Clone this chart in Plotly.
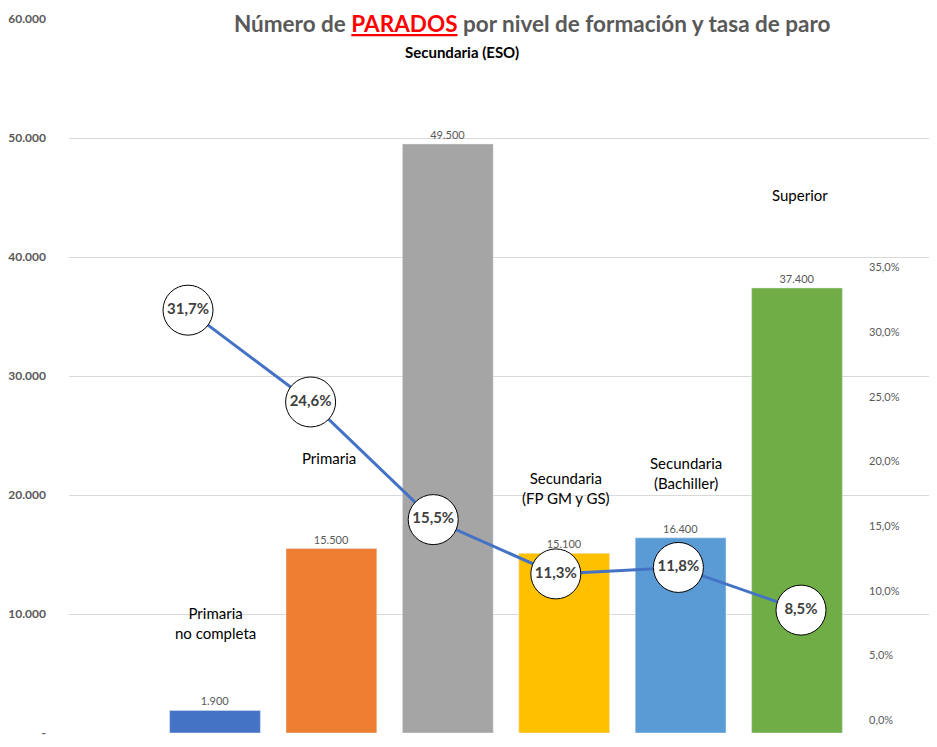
import plotly.graph_objects as go

categories = ["Primaria no completa", "Primaria", "Secundaria (ESO)",
              "Secundaria (FP GM y GS)", "Secundaria (Bachiller)", "Superior"]
category_labels = ["Primaria<br>no completa", "Primaria", "<b>Secundaria (ESO)</b>",
                   "Secundaria<br>(FP GM y GS)", "Secundaria<br>(Bachiller)", "Superior"]
parados = [1900, 15500, 49500, 15100, 16400, 37400]
tasa_paro = [0.317, 0.246, 0.155, 0.113, 0.118, 0.085]
bar_colors = ["#4472C4", "#ED7D31", "#A5A5A5", "#FFC000", "#5B9BD5", "#70AD47"]
left_tickvals = [0, 10000, 20000, 30000, 40000, 50000, 60000]
left_ticktext = ["-", "10.000", "20.000", "30.000", "40.000", "50.000", "60.000"]
right_tickvals = [0, 0.05, 0.10, 0.15, 0.20, 0.25, 0.30, 0.35]

# page body has an 8px margin: work in screen pixels and subtract it
OFF = 8
SW, SH = 937, 747
W, H = SW - OFF, SH - OFF
# plot area in screen px: x 69..937, y 19..733
PL, PR, PT, PB = 69, 937, 19, 733
L, T = PL - OFF, PT - OFF
B = H - (PB - OFF)
PW, PH = PR - PL, PB - PT

def px_x(p):
    return (p - PL) / PW

def px_y(p):
    return (PB - p) / PH

FONT = "Lato, 'Open Sans', sans-serif"

fig = go.Figure()

fig.add_trace(go.Bar(
    x=categories, y=parados, marker_color=bar_colors,
    text=parados, texttemplate="%{y:,.0f}", textposition="outside",
    textfont=dict(size=11, color="#595959", family=FONT),
    cliponaxis=False, xaxis="x", yaxis="y", showlegend=False,
))

fig.add_trace(go.Scatter(
    x=categories, y=tasa_paro, mode="lines+markers+text",
    line=dict(color="#4472C4", width=3),
    marker=dict(size=50, color="white", line=dict(color="black", width=1)),
    text=[f"{v*100:.1f}%".replace(".", ",") for v in tasa_paro],
    textposition="middle center",
    textfont=dict(size=15, color="#404040", family=FONT, weight="bold"),
    xaxis="x2", yaxis="y3", showlegend=False, cliponaxis=False,
))

# bar category axis positions (screen px): centers at 215 ... 797, step 116.4
step = 116.4
c0 = 215.0
fig.update_layout(
    width=W, height=H,
    margin=dict(l=L, r=0, t=T, b=B, autoexpand=False),
    paper_bgcolor="white", plot_bgcolor="rgba(0,0,0,0)",
    separators=",.",
    bargap=0.22,
    font=dict(family=FONT),
    xaxis=dict(
        domain=[0, 1], type="category",
        range=[(PL - c0) / step, 5 + (PR - (c0 + 5 * step)) / step],
        showticklabels=False, showgrid=False, zeroline=False, ticks="",
        showline=False, automargin=False,
    ),
    yaxis=dict(
        domain=[0, 1], range=[0, 60000],
        tickvals=left_tickvals, ticktext=left_ticktext,
        showgrid=True, gridcolor="#D9D9D9", gridwidth=1,
        zeroline=False, showline=False, ticks="",
        tickfont=dict(size=12, color="#595959", family=FONT, weight="bold"),
        ticklabelstandoff=22, automargin=False,
    ),
    xaxis2=dict(
        domain=[px_x(126.7), px_x(862.3)], type="category",
        range=[-0.5, 5.5], anchor="y3", visible=False, automargin=False,
    ),
    yaxis3=dict(
        domain=[px_y(720), px_y(267.5)], range=[0, 0.35],
        anchor="free", position=px_x(868), side="right",
        tickvals=right_tickvals, tickformat=".1%",
        showgrid=False, zeroline=False, showline=False, ticks="",
        tickfont=dict(size=11, color="#595959", family=FONT),
        automargin=False,
    ),
)

# Title
fig.add_annotation(
    xref="paper", yref="paper", x=px_x(532), y=px_y(23.5),
    text="&nbsp;&nbsp;Número de <span style='color:#FF0000'><u>PARADOS</u></span> por nivel de formación y tasa de paro&nbsp;&nbsp;",
    showarrow=False, bgcolor="white", borderpad=0,
    font=dict(size=22.5, color="#595959", family=FONT, weight="bold"),
    xanchor="center", yanchor="middle",
)

# Category labels placed near bars
label_y_px = [623, 458, 52, 488, 473, 195]
label_x_shift = [0, -2, 14, 2, 5, 3]
for cat, lab, ypx, xs in zip(categories, category_labels, label_y_px, label_x_shift):
    fig.add_annotation(
        xref="x", yref="paper", x=cat, y=px_y(ypx), xshift=xs,
        text=lab, showarrow=False, xanchor="center", yanchor="middle",
        font=dict(size=15, color="#000000", family=FONT),
    )

fig.write_html("out.html")
